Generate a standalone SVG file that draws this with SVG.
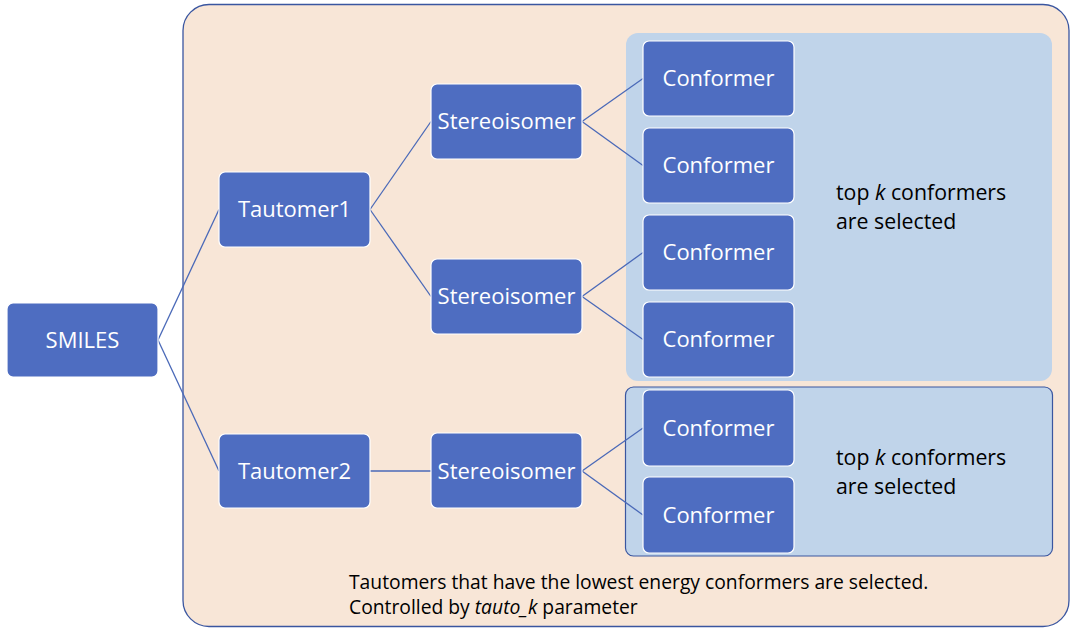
<svg xmlns="http://www.w3.org/2000/svg" width="1083" height="629" viewBox="0 0 1083 629">
<style>
.node rect{fill:#4E6DC1;stroke:#FFFFFF;stroke-width:1.2}
.node text{fill:#FFFFFF;font-family:"Open Sans","Noto Sans",sans-serif;font-size:22px;text-anchor:middle}
.conn line{stroke:#4A69B8;stroke-width:1.3}
.note{fill:#000000;font-family:"Open Sans","Noto Sans",sans-serif}
</style>
<rect width="1083" height="629" fill="#FFFFFF"/>
<g id="outer-box">
<rect x="183" y="4.5" width="886" height="622" rx="26" fill="#F8E6D7" stroke="#3A56A0" stroke-width="1.3"/>
</g>
<g id="group-box-1">
<rect x="626" y="33" width="426" height="348" rx="12" fill="#C0D4EA"/>
</g>
<g id="group-box-2">
<rect x="625.5" y="387" width="427" height="169" rx="8" fill="#C0D4EA" stroke="#3A56A0" stroke-width="1.2"/>
</g>
<g id="connectors" class="conn">
<line x1="158" y1="340" x2="219" y2="209.5"/>
<line x1="158" y1="340" x2="219" y2="471"/>
<line x1="370" y1="209.5" x2="431" y2="121.5"/>
<line x1="370" y1="209.5" x2="431" y2="296.5"/>
<line x1="370" y1="471" x2="431" y2="471"/>
<line x1="582" y1="121.5" x2="643" y2="78.5"/>
<line x1="582" y1="121.5" x2="643" y2="165.5"/>
<line x1="582" y1="296.5" x2="643" y2="252.5"/>
<line x1="582" y1="296.5" x2="643" y2="339.5"/>
<line x1="582" y1="471" x2="643" y2="428"/>
<line x1="582" y1="471" x2="643" y2="515"/>
</g>
<g id="smiles" class="node"><rect x="7" y="303" width="151" height="74" rx="6"/><text x="82.5" y="347.5">SMILES</text></g>
<g id="tautomer1" class="node"><rect x="219" y="172" width="151" height="75" rx="6"/><text x="294.5" y="217">Tautomer1</text></g>
<g id="tautomer2" class="node"><rect x="219" y="434" width="151" height="74" rx="6"/><text x="294.5" y="478.5">Tautomer2</text></g>
<g id="stereo1" class="node"><rect x="431" y="84" width="151" height="75" rx="6"/><text x="506.5" y="129">Stereoisomer</text></g>
<g id="stereo2" class="node"><rect x="431" y="259" width="151" height="75" rx="6"/><text x="506.5" y="304">Stereoisomer</text></g>
<g id="stereo3" class="node"><rect x="431" y="433" width="151" height="75" rx="6"/><text x="506.5" y="478.5">Stereoisomer</text></g>
<g id="conf1" class="node"><rect x="643" y="41" width="151" height="75" rx="6"/><text x="718.5" y="86">Conformer</text></g>
<g id="conf2" class="node"><rect x="643" y="128" width="151" height="75" rx="6"/><text x="718.5" y="173">Conformer</text></g>
<g id="conf3" class="node"><rect x="643" y="215" width="151" height="75" rx="6"/><text x="718.5" y="260">Conformer</text></g>
<g id="conf4" class="node"><rect x="643" y="302" width="151" height="75" rx="6"/><text x="718.5" y="347">Conformer</text></g>
<g id="conf5" class="node"><rect x="643" y="390" width="151" height="76" rx="6"/><text x="718.5" y="435.5">Conformer</text></g>
<g id="conf6" class="node"><rect x="643" y="477" width="151" height="76" rx="6"/><text x="718.5" y="522.5">Conformer</text></g>
<g id="label-1">
<text class="note" x="836" y="200" font-size="21.3">top <tspan font-style="italic">k</tspan> conformers</text>
<text class="note" x="836" y="229" font-size="21.3">are selected</text>
</g>
<g id="label-2">
<text class="note" x="836" y="465" font-size="21.3">top <tspan font-style="italic">k</tspan> conformers</text>
<text class="note" x="836" y="494" font-size="21.3">are selected</text>
</g>
<g id="label-bottom">
<text class="note" x="349" y="589" font-size="19.3">Tautomers that have the lowest energy conformers are selected.</text>
<text class="note" x="349" y="614" font-size="19.3">Controlled by <tspan font-style="italic">tauto_k</tspan> parameter</text>
</g>
</svg>
